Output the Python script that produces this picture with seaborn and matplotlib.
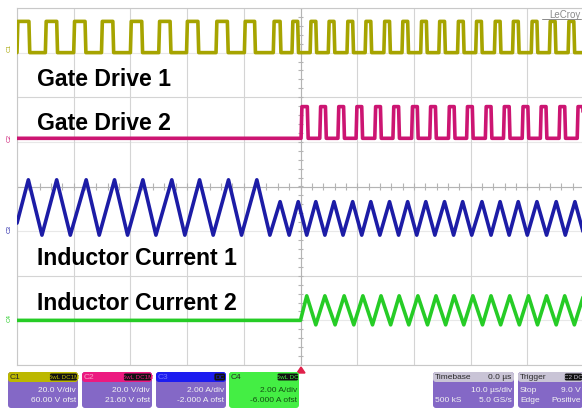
import matplotlib
matplotlib.use("Agg")
import matplotlib.pyplot as plt
from matplotlib.patches import FancyBboxPatch, Polygon
import numpy as np
import pandas as pd
import seaborn as sns

# time in microseconds (10 us/div, trigger at 0), level in screen divisions (8 div tall)
gd1_rise = [-50.0, -45.0, -40.0, -35.1, -30.0, -25.0, -20.1, -14.9, -9.9, -4.8,
            -1.5, 1.7, 4.9, 8.2, 11.4, 14.7, 17.9, 21.2, 24.4, 27.7,
            30.9, 34.2, 37.4, 40.7, 43.9, 47.2]
gd1_width = [2.1, 2.0, 2.0, 2.0, 2.0, 2.0, 2.0, 2.0, 1.8, 1.2,
             1.0, 1.0, 1.0, 1.0, 1.0, 1.0, 1.0, 1.0, 1.0, 1.0,
             1.0, 1.0, 1.0, 1.0, 1.0, 1.0]
gd1_low, gd1_high = 3.0, 3.7

gd2_rise = [0.1, 3.4, 6.6, 9.8, 13.1, 16.3, 19.6, 22.8, 26.1, 29.3,
            32.6, 35.8, 39.1, 42.3, 45.6, 48.8]
gd2_width = [1.1, 1.0, 1.0, 1.0, 1.0, 1.0, 1.0, 1.0, 1.0, 1.0,
             1.0, 1.0, 1.0, 1.0, 1.0, 1.0]
gd2_low, gd2_high = 1.08, 1.79

ind1_start = (-50.0, -0.82)
ind1_peaks_big = [-48.0, -43.0, -37.8, -32.8, -27.8, -22.7, -17.8, -12.7, -7.7]
ind1_peaks_small = [-3.6, -0.4, 2.7, 5.9, 9.2, 12.4, 15.7, 18.9, 22.1, 25.4,
                    28.6, 32.0, 35.2, 38.4, 41.7, 45.1, 48.4]
ind1_troughs = [-45.6, -40.6, -35.5, -30.5, -25.5, -20.4, -15.4, -10.4, -5.4, -2.0,
                1.1, 4.3, 7.5, 10.8, 14.0, 17.3, 20.5, 23.7, 27.0, 30.2,
                33.6, 36.8, 40.0, 43.4, 46.7, 50.0]
ind1_big_lvl, ind1_small_lvl, ind1_trough_lvl = 0.15, -0.34, -1.09

ind2_flat = -3.0
ind2_start = 0.0
ind2_peaks = [1.1, 4.3, 7.7, 11.0, 14.2, 17.4, 20.7, 23.9, 27.1, 30.4,
              33.6, 36.9, 40.2, 43.4, 46.6, 49.9]
ind2_troughs = [2.7, 6.1, 9.4, 12.7, 15.9, 19.1, 22.4, 25.6, 28.8, 32.1,
                35.3, 38.6, 41.8, 45.1, 48.3]
ind2_peak_lvl, ind2_trough_lvl = -2.45, -3.1

labels = ["Gate Drive 1", "Gate Drive 2", "Inductor Current 1", "Inductor Current 2"]
colors = {"C1": "#a6a400", "C2": "#cc1572", "C3": "#1c1ca6", "C4": "#26cc26"}


def pulses(rises, widths, low, high, edge=0.15):
    t, v = [-50.0], [low]
    for r, w in zip(rises, widths):
        t += [r, r + edge, r + w, r + w + edge]
        v += [low, high, high, low]
    t.append(50.0)
    v.append(low)
    return t, v


def zigzag(points):
    points = sorted(points)
    return [p[0] for p in points], [p[1] for p in points]


frames = []
t, v = pulses(gd1_rise, gd1_width, gd1_low, gd1_high)
frames.append(pd.DataFrame({"time": t, "level": v, "trace": "C1"}))
t, v = pulses(gd2_rise, gd2_width, gd2_low, gd2_high)
frames.append(pd.DataFrame({"time": t, "level": v, "trace": "C2"}))
pts = [ind1_start] + [(x, ind1_big_lvl) for x in ind1_peaks_big] \
    + [(x, ind1_small_lvl) for x in ind1_peaks_small] + [(x, ind1_trough_lvl) for x in ind1_troughs]
t, v = zigzag(pts)
frames.append(pd.DataFrame({"time": t, "level": v, "trace": "C3"}))
pts = [(-50.0, ind2_flat), (ind2_start, ind2_flat)] + [(x, ind2_peak_lvl) for x in ind2_peaks] \
    + [(x, ind2_trough_lvl) for x in ind2_troughs]
t, v = zigzag(pts)
frames.append(pd.DataFrame({"time": t, "level": v, "trace": "C4"}))
df = pd.concat(frames, ignore_index=True)

sns.set_style("white")
plt.rcParams["font.family"] = ["Liberation Sans", "DejaVu Sans"]

W, H = 582, 412
fig = plt.figure(figsize=(W / 100, H / 100), dpi=100)
ax = fig.add_axes([17 / W, 1 - 365 / H, 567 / W, 357 / H])

# graticule
ax.set_xlim(-50, 50)
ax.set_ylim(-4, 4)
ax.set_xticks(np.arange(-50, 51, 10))
ax.set_yticks([-4, -2, 0, 2, 4])
ax.grid(True, color="#d4d4d4", linewidth=0.8)
ax.hlines([-3, -1, 1, 3], -50, 50, color="#e8e8e8", lw=0.8, zorder=0.5)
ax.tick_params(length=0, labelbottom=False, labelleft=False)
for s in ax.spines.values():
    s.set_color("#c8c8c8")
    s.set_linewidth(0.8)
ax.axhline(0, color="#b4b4b4", lw=0.8, zorder=1)
ax.axvline(0, color="#b4b4b4", lw=0.8, zorder=1)
ax.vlines(np.arange(-50, 50.1, 2), -0.07, 0.07, color="#b4b4b4", lw=0.8, zorder=1)
ax.hlines(np.arange(-4, 4.01, 0.2), -0.5, 0.5, color="#b4b4b4", lw=0.8, zorder=1)

sns.lineplot(data=df, x="time", y="level", hue="trace", palette=colors,
             estimator=None, sort=False, linewidth=2.6, legend=False, ax=ax, zorder=3)
ax.set_xlabel("")
ax.set_ylabel("")

# overlay in pixel coordinates
ov = fig.add_axes([0, 0, 1, 1])
ov.set_xlim(0, W)
ov.set_ylim(H, 0)
ov.axis("off")
ov.patch.set_alpha(0)

for txt, yb in zip(labels, [85.5, 130, 265, 310]):
    ov.text(37, yb, txt, fontsize=16.6, fontweight="bold", color="black", va="baseline")

for ch, yc in zip(["C1", "C2", "C3", "C4"], [48, 138, 229, 318]):
    ov.text(9, yc, ch, fontsize=4.5, color=colors[ch], rotation=90, ha="center", va="center")

ov.text(581, 15, "LeCroy", fontsize=7, color="#8a8a8a", ha="right", va="center")
ov.plot([542, 581], [19, 19], color="#8a8a8a", lw=0.7)

ov.add_patch(Polygon([[297, 373], [305, 373], [301, 367]], closed=True, color="#e0204a"))

body = "#8468c6"


def box(x0, x1, head, body_col, tag, badge, lines, head_txt="#2a2a2a", txt="#f2f2f2", right_head=None):
    ov.add_patch(FancyBboxPatch((x0, 372), x1 - x0, 36, boxstyle="round,pad=0,rounding_size=3",
                                fc=body_col, ec="none"))
    ov.add_patch(FancyBboxPatch((x0, 372), x1 - x0, 10, boxstyle="round,pad=0,rounding_size=3",
                                fc=head, ec="none"))
    ov.text(x0 + 2, 377.5, tag, fontsize=6, color=head_txt, va="center")
    if right_head:
        ov.text(x1 - 3, 377.5, right_head, fontsize=6, color=head_txt, va="center", ha="right")
    if badge:
        bw = 6 * len(badge.replace(" ", "")) * 0.55 + 4
        ov.add_patch(FancyBboxPatch((x1 - bw - 1, 373.5), bw, 7, boxstyle="round,pad=0,rounding_size=1.5",
                                    fc="#111111", ec="none"))
        ov.text(x1 - 1 - bw / 2, 377.3, badge, fontsize=4.5, color=head, va="center", ha="center")
    for (left, right), yl in zip(lines, [390, 401]):
        if left:
            ov.text(x0 + 2, yl, left, fontsize=6, color=txt, va="center")
        if right:
            ov.text(x1 - 2, yl, right, fontsize=6, color=txt, va="center", ha="right")


box(8, 78, "#bcb800", body, "C1", "BwL DC1M", [("", "20.0 V/div"), ("", "60.00 V ofst")])
box(82, 152, "#ec1a80", body, "C2", "BwL DC1M", [("", "20.0 V/div"), ("", "21.60 V ofst")], head_txt="#f6a0c8")
box(156, 226, "#1c1cf0", body, "C3", "DC", [("", "2.00 A/div"), ("", "-2.000 A ofst")], head_txt="#7070ff")
box(229, 299, "#44ee44", "#44ee44", "C4", "BwL DC", [("", "2.00 A/div"), ("", "-6.000 A ofst")],
    txt="#145014")
box(433, 514, "#c9c4d6", body, "Timebase", None, [("", "10.0 µs/div"), ("500 kS", "5.0 GS/s")],
    right_head="0.0 µs")
box(518, 583, "#c9c4d6", body, "Trigger", "C2 DC", [("Stop", "9.0 V"), ("Edge", "Positive")])

fig.savefig("out.png", dpi=100)
